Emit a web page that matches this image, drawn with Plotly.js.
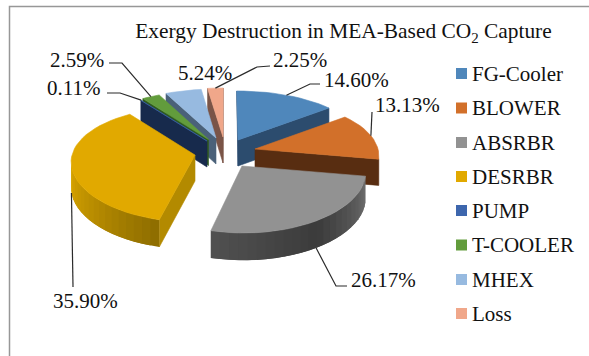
<!DOCTYPE html>
<html>
<head>
<meta charset="utf-8">
<script src="https://cdn.plot.ly/plotly-3.0.1.min.js"></script>
<style>html,body{margin:0;padding:0;background:#fff}#chart{width:589px;height:356px}</style>
</head>
<body>
<div id="chart"></div>
<script>
// Exergy destruction shares, per cent
const categories = ['FG-Cooler', 'BLOWER', 'ABSRBR', 'DESRBR', 'PUMP', 'T-COOLER', 'MHEX', 'Loss'];
const shares = [14.60, 13.13, 26.17, 35.90, 0.11, 2.59, 5.24, 2.25];

// Slice colours: top face, cut wall, and rim gradient stops
const topColors = ['#4f87bb', '#d2702a', '#929292', '#e1a900', '#3d66ad', '#629c3c', '#97bae0', '#f0a78a'];
const cutColors = ['#2c4c6e', '#582d11', '#555555', '#b38a00', '#172a4c', '#2f5a20', '#4a6179', '#7a5447'];
const rimStart = ['#2c4c6e', '#5d3012', '#6e6e6e', '#8f6e00', '#172a4c', '#2f5a20', '#4a6179', '#7a5447'];
const rimMiddle = ['#2c4c6e', '#5d3012', '#3b3b3b', '#b88c00', '#172a4c', '#2f5a20', '#4a6179', '#7a5447'];
const rimEnd = ['#2c4c6e', '#5d3012', '#505050', '#dba700', '#172a4c', '#2f5a20', '#4a6179', '#7a5447'];

// Exploded position of each slice tip on the page
const tipX = [238, 255, 242, 195, 207, 208.5, 216, 223];
const tipY = [140, 149, 166, 155, 141, 139.5, 138, 137];
const paintOrder = [7, 6, 5, 4, 0, 1, 3, 2];

// Perspective settings of the tilted pie
const centerX = 225, radiusX = 123, radiusY = 58, skewX = 0.10, skewY = 0.155, thickness = 26;

// Label placement: text anchor and leader elbow points
const labelX = [321.5, 372.5, 348.5, 50.5, 44.5, 47.5, 175.5, 270.5];
const labelY = [80, 105, 280, 301, 88, 60, 73, 60];
const leaderX = [[310, 320], [372], [336, 347], [73], [120, 107], [122, 109], [], [257, 270]];
const leaderY = [[84, 84], [112], [286, 286], [287], [93, 93], [63, 63], [], [67, 66]];
const hasLeader = [true, true, true, true, true, true, false, true];

// Key placement
const keyX = 461.5, keyTextX = 469.5;
const keyY = [73.5, 108, 142.5, 176.5, 210.5, 245, 279.5, 313.5];

const serif = 'Liberation Serif';
const total = shares.reduce((a, b) => a + b, 0);
const startAngle = [];
shares.reduce((acc, v, i) => { startAngle[i] = acc / total * 2 * Math.PI; return acc + v; }, 0);
const endAngle = shares.map((v, i) => startAngle[i] + v / total * 2 * Math.PI);

function project(i, angle) {
  const u = Math.sin(angle), v = -Math.cos(angle);
  return {
    x: centerX + (tipX[i] - centerX + radiusX * u) * (1 + skewX * v),
    y: tipY[i] + radiusY * v * (1 + skewY * v),
    v: v
  };
}
const drop = v => thickness * (1 + 0.05 * v);

function poly(xs, ys, color, name, width) {
  return {
    type: 'scatter', mode: 'lines', x: xs, y: ys, fill: 'toself', fillcolor: color,
    line: { color: color, width: width === undefined ? 0.6 : width }, hoverinfo: name ? 'name' : 'skip', name: name || ''
  };
}
function hex(c) { return [1, 3, 5].map(k => parseInt(c.substr(k, 2), 16)); }
function mix(a, b, t) {
  const p = hex(a), q = hex(b);
  return 'rgb(' + p.map((n, k) => Math.round(n + (q[k] - n) * t)).join(',') + ')';
}
function rimColor(i, t) {
  return t < 0.5 ? mix(rimStart[i], rimMiddle[i], t * 2) : mix(rimMiddle[i], rimEnd[i], (t - 0.5) * 2);
}

const traces = [];
function wall(a, b, color, da, db, width) {
  if (b.x - a.x >= 0) return;              // faces away from the viewer
  traces.push(poly([a.x, b.x, b.x, a.x, a.x],
                   [a.y, b.y, b.y + db, a.y + da, a.y], color, '', width));
}

paintOrder.forEach(i => {
  const tip = { x: tipX[i], y: tipY[i], v: 0 };
  const steps = Math.max(2, Math.ceil((endAngle[i] - startAngle[i]) / (Math.PI / 45)));
  const rim = [];
  for (let s = 0; s <= steps; s++) {
    rim.push(project(i, startAngle[i] + (endAngle[i] - startAngle[i]) * s / steps));
  }
  const tipDrop = drop(0);
  wall(tip, rim[0], cutColors[i], tipDrop, drop(rim[0].v));
  const front = [];
  for (let s = 0; s < steps; s++) if (rim[s + 1].x < rim[s].x) front.push(s);
  // Each rim band runs under the next one so no seam shows between them
  front.forEach((s, k) => {
    const t = front.length > 1 ? k / (front.length - 1) : 0;
    const far = Math.min(s + 2, front[front.length - 1] + 1);
    wall(rim[s], rim[far], rimColor(i, t), drop(rim[s].v), drop(rim[far].v), 0);
  });
  wall(rim[steps], tip, cutColors[i], drop(rim[steps].v), tipDrop);
  traces.push(poly([tip.x].concat(rim.map(p => p.x), tip.x),
                   [tip.y].concat(rim.map(p => p.y), tip.y), topColors[i], categories[i]));
});

// Leader lines start on the middle of each slice's outer edge
categories.forEach((c, i) => {
  if (!hasLeader[i]) return;
  const p = project(i, (startAngle[i] + endAngle[i]) / 2);
  const y0 = p.v > 0 ? p.y + drop(p.v) : p.y;
  traces.push({
    type: 'scatter', mode: 'lines', x: [p.x].concat(leaderX[i]), y: [y0].concat(leaderY[i]),
    line: { color: '#2b2b2b', width: 1.2 }, hoverinfo: 'skip'
  });
});

// Key: square swatch followed by the category name
traces.push({
  type: 'scatter', mode: 'markers', x: categories.map(() => keyX), y: keyY,
  marker: { symbol: 'square', size: 11, color: topColors, line: { width: 0 } },
  text: categories, hoverinfo: 'text'
});

const annotations = shares.map((v, i) => ({
  xref: 'x', yref: 'y', x: labelX[i], y: labelY[i], text: v.toFixed(2) + '%', showarrow: false,
  xanchor: 'left', yanchor: 'middle', font: { family: serif, size: 21, color: '#111' }
})).concat(categories.map((c, i) => ({
  xref: 'x', yref: 'y', x: keyTextX, y: keyY[i], text: c, showarrow: false,
  xanchor: 'left', yanchor: 'middle', font: { family: serif, size: 21, color: '#111' }
})));

const layout = {
  width: 589, height: 356, margin: { l: 0, r: 0, t: 0, b: 0 }, showlegend: false,
  paper_bgcolor: '#fff', plot_bgcolor: '#fff',
  title: {
    text: 'Exergy Destruction in MEA-Based CO<sub>2</sub> Capture',
    x: 343.5 / 589, y: 1 - 31 / 356, xanchor: 'center', yanchor: 'middle', xref: 'paper', yref: 'paper',
    font: { family: serif, size: 21.4, color: '#111' }
  },
  xaxis: { range: [0, 589], visible: false, fixedrange: true },
  yaxis: { range: [356, 0], visible: false, fixedrange: true },
  annotations: annotations,
  shapes: [{
    type: 'path', xref: 'x', yref: 'y', path: 'M9.5,356 L9.5,6.5 L589,6.5',
    line: { color: '#979797', width: 1.5 }
  }]
};

Plotly.newPlot('chart', traces, layout, { displayModeBar: false, staticPlot: true });
</script>
</body>
</html>
